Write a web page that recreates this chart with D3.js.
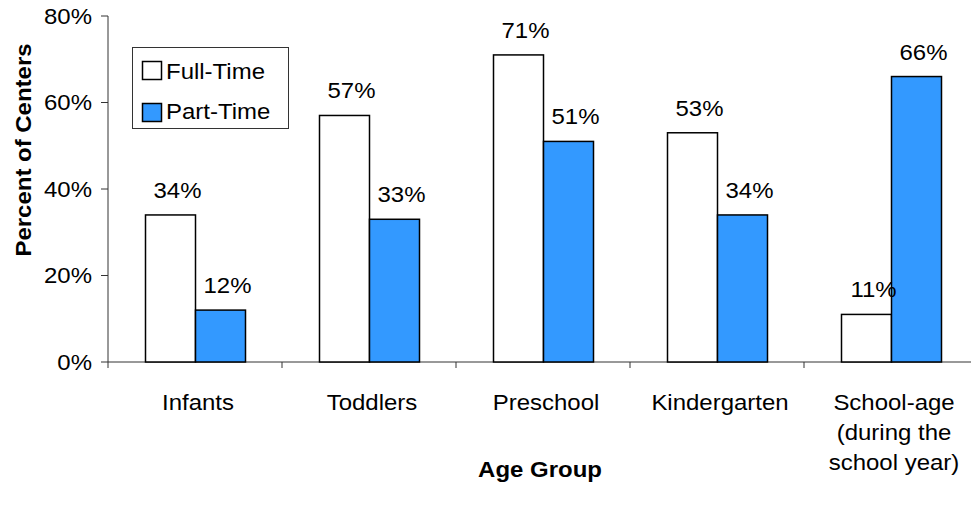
<!DOCTYPE html>
<html><head><meta charset="utf-8">
<script src="https://cdn.jsdelivr.net/npm/d3@7"></script>
<style>body{margin:0;background:#fff}svg{display:block}</style>
</head><body>
<svg id="c" width="971" height="512"></svg>
<script>
const categories = [["Infants"],["Toddlers"],["Preschool"],["Kindergarten"],["School-age","(during the","school year)"]];
const catNames = ["Infants","Toddlers","Preschool","Kindergarten","School-age"];
const seriesNames = ["Full-Time","Part-Time"];
const fullTime = [0.34,0.57,0.71,0.53,0.11];
const partTime = [0.12,0.33,0.51,0.34,0.66];
const yTicks = [0,0.2,0.4,0.6,0.8];
const colors = {"Full-Time":"#ffffff","Part-Time":"#3399ff"};

(function(){
const FS = 22, SX = 1.09, FONT = "'Liberation Sans', Arial, sans-serif";
const svg = d3.select("#c");
const pLeft = 108, pTop = 16, pBottom = 362, step = 174;
const x0 = d3.scaleBand().domain(catNames).range([pLeft, pLeft + step*catNames.length]).padding(0);
const x1 = d3.scaleBand().domain(seriesNames).range([37.5, 137.5]).padding(0);
const y = d3.scaleLinear().domain([0,0.8]).range([pBottom, pTop]);

function txt(x, yy, s, o={}) {
  return svg.append("text")
    .attr("transform", `translate(${x},${yy}) rotate(${o.rot||0}) scale(${SX},1)`)
    .attr("text-anchor", o.anchor||"middle")
    .attr("font-family", FONT).attr("font-size", o.fs||FS)
    .attr("font-weight", o.bold?"bold":"normal")
    .attr("dominant-baseline", o.mid?"central":"auto")
    .attr("fill","#000").text(s);
}

// y axis
svg.append("line").attr("x1",pLeft).attr("x2",pLeft).attr("y1",y(0.8)).attr("y2",y(0)).attr("stroke","#333").attr("stroke-width",1);
yTicks.forEach(t=>{
  svg.append("line").attr("x1",pLeft-7).attr("x2",pLeft).attr("y1",y(t)).attr("y2",y(t)).attr("stroke","#333");
  txt(pLeft-16, y(t), d3.format(".0%")(t), {anchor:"end", mid:true});
});
// x axis
svg.append("line").attr("x1",pLeft).attr("x2",971).attr("y1",y(0)).attr("y2",y(0)).attr("stroke","#333");
catNames.forEach(c=>{
  svg.append("line").attr("x1",x0(c)).attr("x2",x0(c)).attr("y1",y(0)).attr("y2",y(0)+6).attr("stroke","#333");
});

// bars
const data = catNames.map((c,i)=>({c, vals:[{s:"Full-Time",v:fullTime[i]},{s:"Part-Time",v:partTime[i]}]}));
const g = svg.selectAll("g.cat").data(data).join("g").attr("class","cat").attr("transform",d=>`translate(${x0(d.c)},0)`);
g.selectAll("rect").data(d=>d.vals).join("rect")
  .attr("x",d=>x1(d.s)).attr("width",x1.bandwidth())
  .attr("y",d=>y(d.v)).attr("height",d=>y(0)-y(d.v))
  .attr("fill",d=>colors[d.s]).attr("stroke","#000").attr("stroke-width",1.5);
data.forEach(d=>d.vals.forEach(v=>{
  txt(x0(d.c)+x1(v.s)+x1.bandwidth()/2+7, y(v.v)-17, d3.format(".0%")(v.v));
}));

// category labels
categories.forEach((lines,i)=>{
  const cx = x0(catNames[i]) + step/2 + 3;
  lines.forEach((l,j)=> txt(cx, 410 + j*30, l));
});

// axis titles
txt(540, 477, "Age Group", {bold:true});
txt(31, 150, "Percent of Centers", {bold:true, rot:-90});

// legend
svg.append("rect").attr("x",132.5).attr("y",47.5).attr("width",156).attr("height",81).attr("fill","#fff").attr("stroke","#333");
seriesNames.forEach((s,i)=>{
  svg.append("rect").attr("x",142.5).attr("y",61.5+i*42).attr("width",19).attr("height",18)
    .attr("fill",colors[s]).attr("stroke","#000").attr("stroke-width",1.5);
  txt(166, 79+i*40, s, {anchor:"start"});
});
})();
</script>
</body></html>
